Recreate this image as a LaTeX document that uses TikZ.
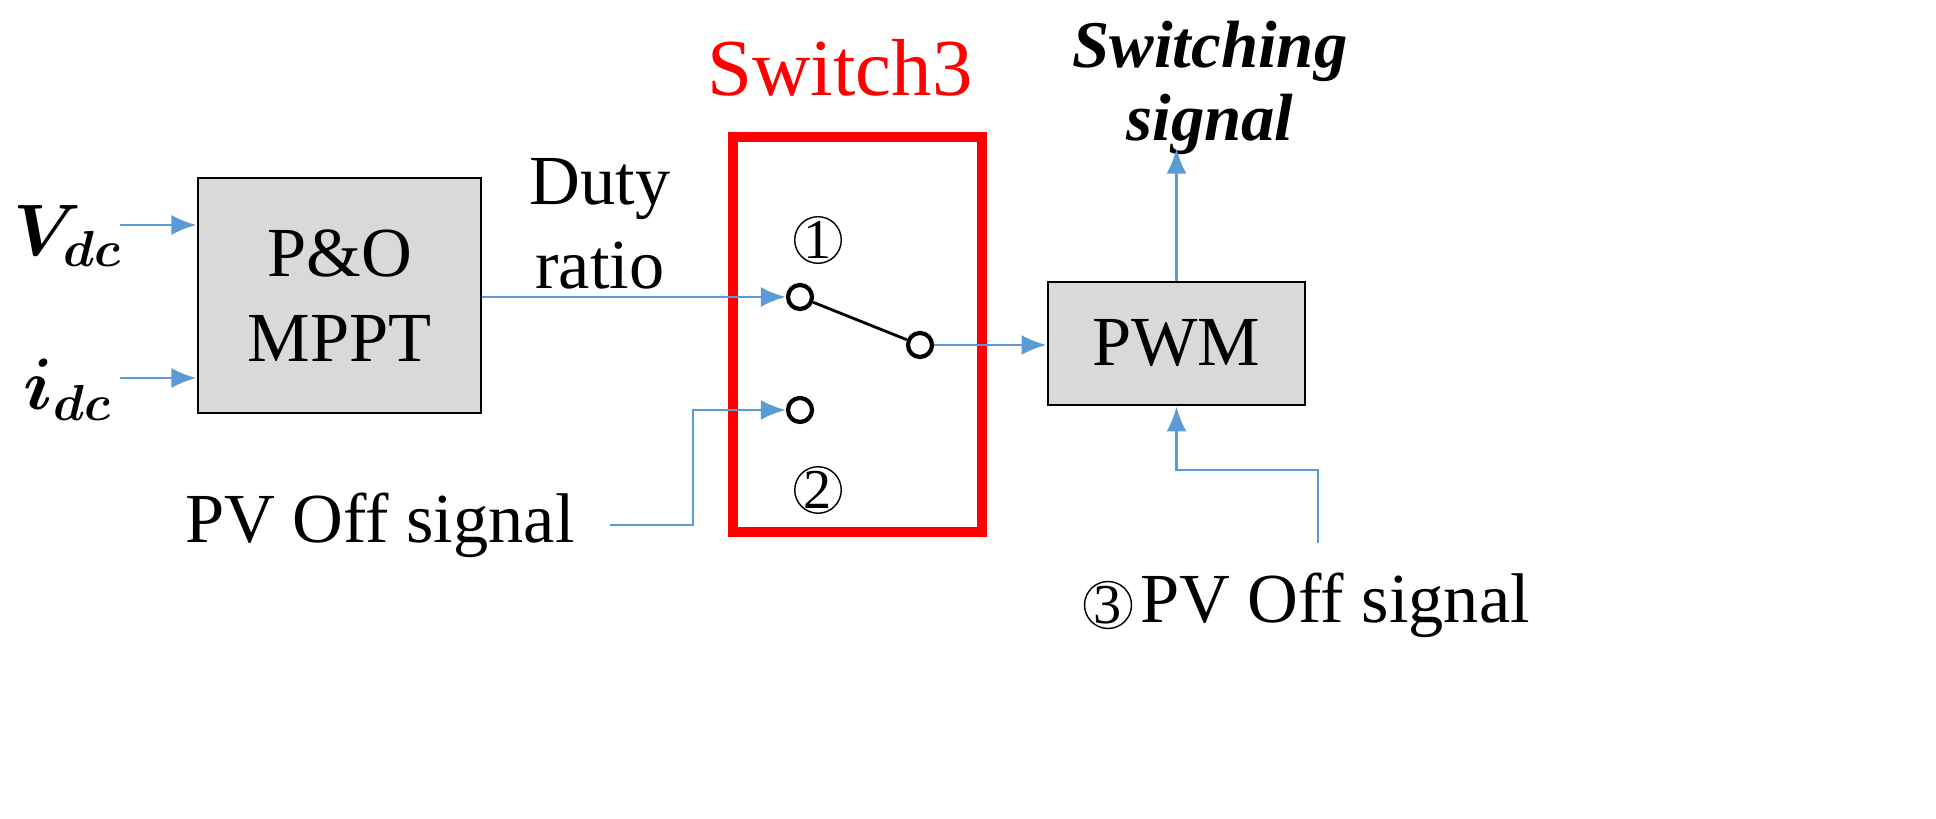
\documentclass[tikz,border=0pt]{standalone}
\usepackage{amsmath,bm}
\usepackage{fontspec}
\setmainfont{Liberation Serif}
\usetikzlibrary{positioning,arrows.meta}
\definecolor{lineblue}{RGB}{91,155,213}
\definecolor{boxgray}{RGB}{217,217,217}
\tikzset{
    blk/.style={draw, thick, fill=boxgray, font=\fontsize{20}{24}\selectfont, align=center},
    sig/.style={lineblue, thick, -{Latex[length=0.25cm,width=0.2cm]}},
    term/.style={draw, very thick, circle, minimum size=0.24cm, inner sep=0pt},
    num/.style={draw, circle, minimum size=0.46cm, inner sep=0pt, font=\fontsize{16}{18}\selectfont},
    txt/.style={font=\fontsize{20}{24}\selectfont, align=center}
}
\begin{document}
\begin{tikzpicture}[x=0.01cm,y=-0.01cm]
    \useasboundingbox (0,0) rectangle (1936,819);

    % Blocks
    \node[blk, minimum width=2.83cm, minimum height=2.35cm] (mppt) at (339.5,295.5) {P\&O\\MPPT};
    \node[blk, minimum width=2.57cm, minimum height=1.23cm] (pwm) at (1176.5,343.5) {PWM};
    \draw[red, line width=3pt] (733,137) rectangle (982,532);
    \node[txt, red, font=\fontsize{23}{27}\selectfont] (title) at (840,68) {Switch3};

    % Switch terminals
    \node[term] (t1) at (800,297) {};
    \node[term] (t2) at (800,410) {};
    \node[term] (tout) at (920,345) {};
    \node[num] (n1) at (818,240) {1};
    \node[num] (n2) at (818,490) {2};
    \draw[thick] (t1) -- (tout);

    % Inputs
    \node[txt, font=\fontsize{22}{26}\selectfont] (vdc) at (68,236) {$\bm{V_{dc}}$};
    \node[txt, font=\fontsize{22}{26}\selectfont] (idc) at (68,390) {$\bm{i_{dc}}$};
    \coordinate (vin) at (120,225);
    \coordinate (iin) at (120,378);
    \draw[sig] (vin) -- (vin -| mppt.west);
    \draw[sig] (iin) -- (iin -| mppt.west);

    \node[txt] (duty) at (600,224) {Duty\\ratio};
    \draw[sig] (mppt.east |- t1) -- (t1.west);

    \node[txt] (off1) at (380,525) {PV Off signal};
    \coordinate (bend1) at (693,525);
    \draw[sig] (610,525) -- (bend1) |- (t2.west);

    \draw[sig] (tout.east) -- (pwm.west |- tout);

    % Output
    \node[txt, font=\fontsize{19}{21}\selectfont\bfseries\itshape] (out) at (1210,88) {Switching\\signal};
    \draw[sig] (pwm.north) -- ++(0,-132);

    \node[num] (n3) at (1108,605) {3};
    \node[txt, anchor=west] (off2) at (1128,605) {PV Off signal};
    \coordinate (bend2) at (1318,470);
    \draw[sig] (1318,543) -- (bend2) -| (pwm.south);
\end{tikzpicture}
\end{document}
